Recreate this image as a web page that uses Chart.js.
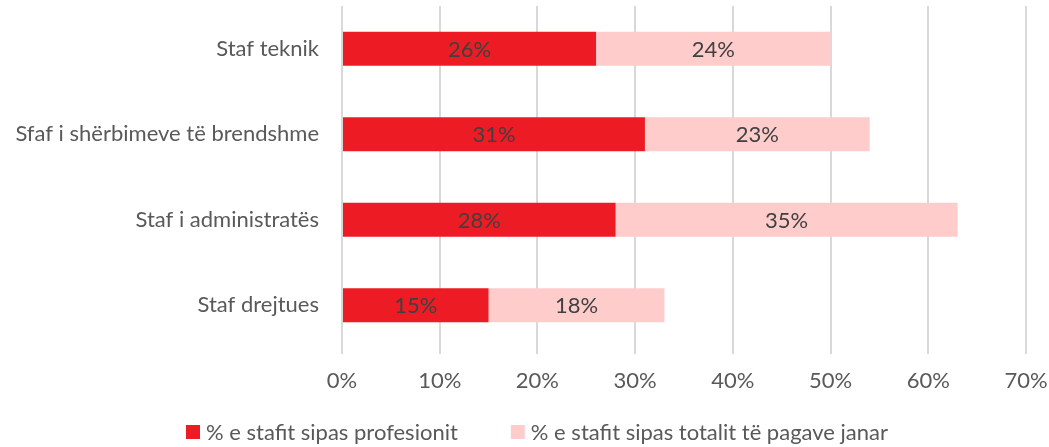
<!DOCTYPE html>
<html>
<head>
<meta charset="utf-8">
<script src="https://cdn.jsdelivr.net/npm/chart.js@4.4.1/dist/chart.umd.min.js"></script>
<style>
  html, body { margin: 0; padding: 0; background: #ffffff; }
  #wrap { width: 1049px; height: 447px; position: relative; }
</style>
</head>
<body>
<div id="wrap"><canvas id="chart"></canvas></div>
<script>
// Staff categories, top to bottom
const categories = ['Staf teknik', 'Sfaf i shërbimeve të brendshme', 'Staf i administratës', 'Staf drejtues'];
// Share of staff by profession (%)
const staffShare = [26, 31, 28, 15];
// Share of the January payroll total (%)
const payrollShare = [24, 23, 35, 18];
const seriesNames = ['% e stafit sipas profesionit', '% e stafit sipas totalit të pagave janar'];
const xTicks = [0, 10, 20, 30, 40, 50, 60, 70];

const FONT = 'Lato, "Open Sans", sans-serif';
const FONT_SIZE = 22;
const TEXT = '#595959';

// Writes each segment's value in the middle of its bar
const barValueLabels = {
  id: 'barValueLabels',
  afterDatasetsDraw(chart) {
    const ctx = chart.ctx;
    ctx.save();
    ctx.font = FONT_SIZE + 'px ' + FONT;
    ctx.fillStyle = '#404040';
    ctx.textAlign = 'center';
    ctx.textBaseline = 'middle';
    chart.data.datasets.forEach((ds, i) => {
      chart.getDatasetMeta(i).data.forEach((bar, j) => {
        const left = Math.min(bar.x, bar.base);
        const right = Math.max(bar.x, bar.base);
        ctx.fillText(ds.data[j] + '%', (left + right) / 2, bar.y + 1);
      });
    });
    ctx.restore();
  }
};

// Legend row under the axis: square swatch followed by the series name
const bottomLegend = {
  id: 'bottomLegend',
  afterDraw(chart) {
    const ctx = chart.ctx;
    const box = 14, textGap = 6, itemGap = 53, cy = 432, centerX = 537;
    ctx.save();
    ctx.font = FONT_SIZE + 'px ' + FONT;
    ctx.textBaseline = 'middle';
    ctx.textAlign = 'left';
    const items = chart.data.datasets.map(ds => ({
      text: ds.label, color: ds.backgroundColor, w: ctx.measureText(ds.label).width
    }));
    const total = items.reduce((s, it) => s + box + textGap + it.w, 0) + itemGap * (items.length - 1);
    let x = centerX - total / 2;
    items.forEach(it => {
      ctx.fillStyle = it.color;
      ctx.fillRect(x, cy - box / 2, box, box);
      x += box + textGap;
      ctx.fillStyle = TEXT;
      ctx.fillText(it.text, x, cy + 1);
      x += it.w + itemGap;
    });
    ctx.restore();
  }
};

new Chart(document.getElementById('chart'), {
  type: 'bar',
  data: {
    labels: categories,
    datasets: [
      { label: seriesNames[0], data: staffShare, backgroundColor: '#ED1C24' },
      { label: seriesNames[1], data: payrollShare, backgroundColor: '#FFCCCC' }
    ]
  },
  options: {
    indexAxis: 'y',
    responsive: true,
    maintainAspectRatio: false,
    animation: false,
    layout: { padding: { top: 6, right: 23, left: 0, bottom: 51 } },
    datasets: { bar: { categoryPercentage: 1, barPercentage: 0.4 } },
    scales: {
      x: {
        stacked: true,
        min: 0,
        max: 70,
        afterBuildTicks(scale) { scale.ticks = xTicks.map(v => ({ value: v })); },
        afterFit(scale) {
          scale.height = 48;
          scale.paddingLeft = 0;
          scale.paddingRight = 0;
        },
        grid: { color: '#d9d9d9', lineWidth: 2, drawTicks: true, tickLength: 6, tickColor: '#d9d9d9' },
        border: { display: false },
        ticks: {
          font: { family: FONT, size: FONT_SIZE },
          color: TEXT,
          padding: 14,
          maxRotation: 0,
          callback: v => v + '%'
        }
      },
      y: {
        stacked: true,
        grid: { display: false },
        border: { display: false },
        afterFit(scale) {
          scale.width = 342;
          scale.paddingTop = 0;
          scale.paddingBottom = 0;
        },
        ticks: {
          font: { family: FONT, size: FONT_SIZE },
          color: TEXT,
          padding: 15
        }
      }
    },
    plugins: {
      tooltip: { enabled: false },
      legend: { display: false }
    }
  },
  plugins: [barValueLabels, bottomLegend]
});
</script>
</body>
</html>
